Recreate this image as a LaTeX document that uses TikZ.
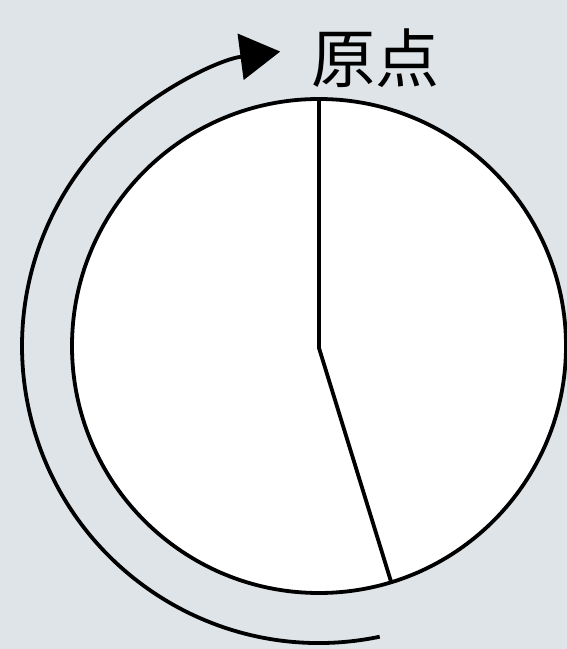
\documentclass[tikz,border=0pt]{standalone}
\usepackage{fontspec}
\newfontfamily\cjk{Noto Sans CJK JP}
\usetikzlibrary{arrows.meta}
\definecolor{bgc}{RGB}{222,228,232}
\tikzset{
  ink/.style={draw=black, line width=3.8pt},
  dialbox/.style={ink, circle, fill=white, minimum size=494pt, inner sep=0pt, outer sep=0pt},
  turn/.style={ink, -{Triangle[length=40pt,width=46pt]}},
}
\begin{document}
\begin{tikzpicture}[x=1pt,y=1pt]
\fill[bgc] (0,0) rectangle (567,649);
\useasboundingbox (0,0) rectangle (567,649);
\coordinate (c) at (319,303);
\node[dialbox] (dial) at (c) {};
\draw[ink, line join=miter] (dial.north) -- ([yshift=-2pt]c) -- (dial.-73.3);
\draw[turn] (c) ++(281.8:297) arc[start angle=281.8, end angle=97.5, radius=297];
\node[inner sep=0pt] (label) at (375,591) {\cjk\fontsize{64}{64}\selectfont 原点};
\end{tikzpicture}
\end{document}
